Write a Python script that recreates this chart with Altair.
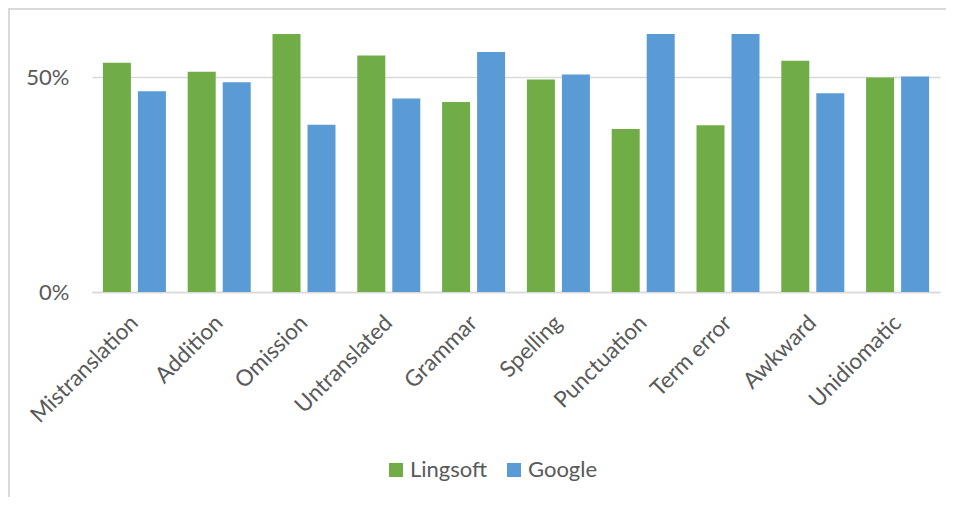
import altair as alt
import pandas as pd

categories = ["Mistranslation", "Addition", "Omission", "Untranslated", "Grammar",
              "Spelling", "Punctuation", "Term error", "Awkward", "Unidiomatic"]
lingsoft = [0.533, 0.512, 0.611, 0.550, 0.442, 0.494, 0.379, 0.388, 0.538, 0.499]
google = [0.467, 0.488, 0.389, 0.450, 0.558, 0.506, 0.621, 0.612, 0.462, 0.501]
series = ["Lingsoft", "Google"]
colors = ["#70AD47", "#5B9BD5"]
y_ticks = [0, 0.5]

rows = []
for c, l, g in zip(categories, lingsoft, google):
    rows.append({"Category": c, "Series": "Lingsoft", "Value": l})
    rows.append({"Category": c, "Series": "Google", "Value": g})
df = pd.DataFrame(rows)

FONT = "Lato"
TXT = "#595959"
GRID = "#d9d9d9"

bars = alt.Chart(df).mark_bar(clip=True).encode(
    x=alt.X("Category:N", sort=categories, title=None,
            scale=alt.Scale(paddingInner=0.257, paddingOuter=0.1285),
            axis=alt.Axis(labelAngle=-45, labelAlign="right", labelBaseline="middle",
                          labelPadding=27, ticks=False, domain=True, domainColor=GRID,
                          domainWidth=1.5, labelFontSize=22.5, labelColor=TXT,
                          labelFont=FONT, grid=False)),
    xOffset=alt.XOffset("Series:N", sort=series,
                        scale=alt.Scale(paddingInner=0.2, paddingOuter=0)),
    y=alt.Y("Value:Q", title=None,
            scale=alt.Scale(domain=[0, 0.6], nice=False),
            axis=alt.Axis(values=y_ticks, format=".0%", ticks=False, domain=False,
                          grid=True, gridColor=GRID, gridWidth=1.5,
                          labelFontSize=22, labelColor=TXT, labelFont=FONT,
                          labelPadding=23)),
    color=alt.Color("Series:N", sort=series,
                    scale=alt.Scale(domain=series, range=colors),
                    legend=alt.Legend(title=None, orient="none", direction="horizontal",
                                      legendX=293, legendY=425, symbolType="square",
                                      symbolSize=196, symbolStrokeWidth=0,
                                      labelFontSize=22, labelFont=FONT, labelColor=TXT,
                                      labelOffset=3, columnPadding=15, padding=0)),
)

frame_left = alt.Chart(df).mark_rule(color=GRID, strokeWidth=1.5).encode(
    x=alt.value(-83.25), y=alt.value(-26), y2=alt.value(470))
frame_top = alt.Chart(df).mark_rule(color=GRID, strokeWidth=1.5).encode(
    x=alt.value(-84), x2=alt.value(870), y=alt.value(-25.25))

chart = alt.layer(frame_left, frame_top, bars).properties(
    width=848, height=258,
    autosize=alt.AutoSizeParams(type="none"),
    padding={"left": 84, "top": 26, "right": 6, "bottom": 205},
).configure(font=FONT).configure_view(stroke="transparent", strokeWidth=0)

chart.save("out.html", embed_options={"renderer": "svg", "actions": False})
